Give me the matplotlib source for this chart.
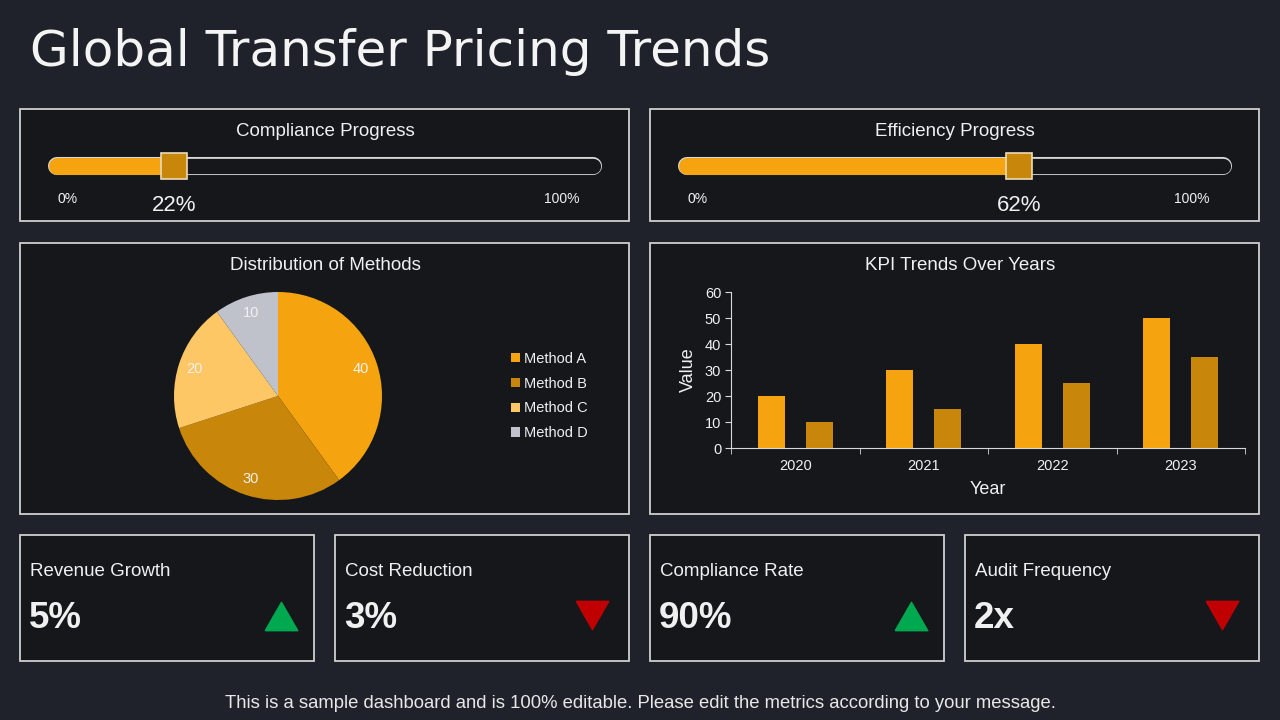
import matplotlib
matplotlib.use("Agg")
import matplotlib.pyplot as plt
from matplotlib.patches import Rectangle

plt.rcParams['font.family'] = ['Liberation Sans', 'DejaVu Sans']

# ---- data ----
progress_titles = ['Compliance Progress', 'Efficiency Progress']
progress_values = [22, 62]

methods = ['Method A', 'Method B', 'Method C', 'Method D']
method_share = [40, 30, 20, 10]

years = ['2020', '2021', '2022', '2023']
kpi_series1 = [20, 30, 40, 50]
kpi_series2 = [10, 15, 25, 35]

card_titles = ['Revenue Growth', 'Cost Reduction', 'Compliance Rate', 'Audit Frequency']
card_values = ['5%', '3%', '90%', '2x']
card_trend = ['up', 'down', 'up', 'down']

# ---- style ----
W, H = 1280, 720
BG = '#1f222a'
PANEL = '#16171b'
EDGE = '#cfcfcf'
TXT = '#f0f0f0'
ORANGE = '#f5a40f'
DARK_OR = '#c8870a'
LIGHT_OR = '#fdc766'
GREY = '#c0c2cb'
GREEN = '#00a84f'
RED = '#c00000'

# triangle shapes a bit wider than tall, like the reference
UP = [(-1, -0.87), (1, -0.87), (0, 0.87), (-1, -0.87)]
DOWN = [(-1, 0.87), (1, 0.87), (0, -0.87), (-1, 0.87)]


def frac(x0, y0, x1, y1):
    # pixel box (top-left origin) -> figure fraction
    return [x0 / W, 1 - y1 / H, (x1 - x0) / W, (y1 - y0) / H]


fig = plt.figure(figsize=(12.8, 7.2), dpi=100, facecolor=BG)
bg = fig.add_axes([0, 0, 1, 1])
bg.set_xlim(0, W)
bg.set_ylim(H, 0)
bg.axis('off')

bg.text(30, 52, 'Global Transfer Pricing Trends', color='#f4f4f4',
        fontsize=36, family='DejaVu Sans', va='center', ha='left')


def panel(x0, y0, x1, y1):
    bg.add_patch(Rectangle((x0, y0), x1 - x0, y1 - y0, facecolor=PANEL,
                           edgecolor=EDGE, lw=1.3))


# ---- progress panels ----
for i, (title, val) in enumerate(zip(progress_titles, progress_values)):
    ox = i * 630
    panel(20 + ox, 109, 629 + ox, 221)
    bg.text(325 + ox, 131, title, color=TXT, fontsize=13.5, ha='center', va='center')
    bg.text(68 + ox, 199, '0%', color=TXT, fontsize=10, ha='center', va='center')
    bg.text(562 + ox, 199, '100%', color=TXT, fontsize=10, ha='center', va='center')

    pa = fig.add_axes(frac(56.5 + ox, 157, 592.5 + ox, 175))
    pa.set_xlim(0, 100)
    pa.set_ylim(0, 1)
    pa.axis('off')
    pa.plot([0, 100], [0.5, 0.5], color='#d8d8d8', lw=13, solid_capstyle='round',
            clip_on=False)
    pa.plot([0, 100], [0.5, 0.5], color=PANEL, lw=11, solid_capstyle='round',
            clip_on=False)
    pa.plot([0, val], [0.5, 0.5], color=ORANGE, lw=12.2, solid_capstyle='round',
            clip_on=False)
    pa.plot([val], [0.5], marker='s', ms=18.5, mfc=DARK_OR, mec='#eadcb8',
            mew=1.2, clip_on=False)
    pa.text(val, -1.7, f'{val}%', color=TXT, fontsize=16, ha='center',
            va='center', clip_on=False)

# ---- pie panel ----
panel(20, 243, 629, 514)
bg.text(325, 266, 'Distribution of Methods', color=TXT, fontsize=13.5,
        ha='center', va='center')
pie_ax = fig.add_axes(frac(174, 292, 382, 500))
wedges, texts = pie_ax.pie(method_share, colors=[ORANGE, DARK_OR, LIGHT_OR, GREY],
                           startangle=90, counterclock=False, labels=method_share,
                           labeldistance=0.84,
                           textprops=dict(color=TXT, fontsize=10.5))
for t in texts:
    t.set_ha('center')
    t.set_va('center')
pie_ax.set_xlim(-1, 1)
pie_ax.set_ylim(-1, 1)
leg = fig.legend(wedges, methods, loc='center left',
                 bbox_to_anchor=(498 / W, 1 - 396 / H), frameon=False,
                 fontsize=10.5, labelcolor=TXT, handlelength=0.6,
                 handleheight=0.6, handletextpad=0.3, labelspacing=0.74)

# ---- bar panel ----
panel(650, 243, 1259, 514)
bg.text(960, 266, 'KPI Trends Over Years', color=TXT, fontsize=13.5,
        ha='center', va='center')
bar_ax = fig.add_axes(frac(731, 292, 1245, 448))
bar_ax.set_facecolor(PANEL)
pos = list(range(len(years)))
bar_ax.bar([p - 0.186 for p in pos], kpi_series1, width=0.21, color=ORANGE)
bar_ax.bar([p + 0.186 for p in pos], kpi_series2, width=0.21, color=DARK_OR)
bar_ax.set_xlim(-0.5, len(years) - 0.5)
bar_ax.set_ylim(0, 60)
bar_ax.set_yticks(range(0, 61, 10))
bar_ax.set_xticks(pos)
bar_ax.set_xticklabels(years)
bar_ax.set_xticks([p - 0.5 for p in range(len(years) + 1)], minor=True)
bar_ax.tick_params(axis='x', which='major', length=0, pad=8, labelsize=10.5,
                   labelcolor=TXT)
bar_ax.tick_params(axis='x', which='minor', length=4, color='#d8d8d8')
bar_ax.tick_params(axis='y', length=4, color='#d8d8d8', labelsize=10.5,
                   labelcolor=TXT, pad=3)
for s in ['top', 'right']:
    bar_ax.spines[s].set_visible(False)
for s in ['left', 'bottom']:
    bar_ax.spines[s].set_color('#d8d8d8')
bar_ax.set_xlabel('Year', color=TXT, fontsize=13, labelpad=6)
bar_ax.set_ylabel('Value', color=TXT, fontsize=13, labelpad=6)

# ---- KPI cards ----
for i, (t, v, tr) in enumerate(zip(card_titles, card_values, card_trend)):
    x0 = 20 + i * 315
    panel(x0, 535, x0 + 294, 661)
    bg.text(x0 + 10, 572, t, color=TXT, fontsize=13.5, ha='left', va='center')
    bg.text(x0 + 9, 618, v, color=TXT, fontsize=26.5, fontweight='bold',
            ha='left', va='center')
    if tr == 'up':
        bg.plot(x0 + 261, 616, marker=UP, ms=23.5, color=GREEN, mec=GREEN)
    else:
        bg.plot(x0 + 257, 615, marker=DOWN, ms=23.5, color=RED, mec=RED)

bg.text(640, 704, 'This is a sample dashboard and is 100% editable. Please edit the '
        'metrics according to your message.', color='#e8e8e8', fontsize=13.3,
        ha='center', va='center')

fig.savefig('out.png', dpi=100, facecolor=BG)
